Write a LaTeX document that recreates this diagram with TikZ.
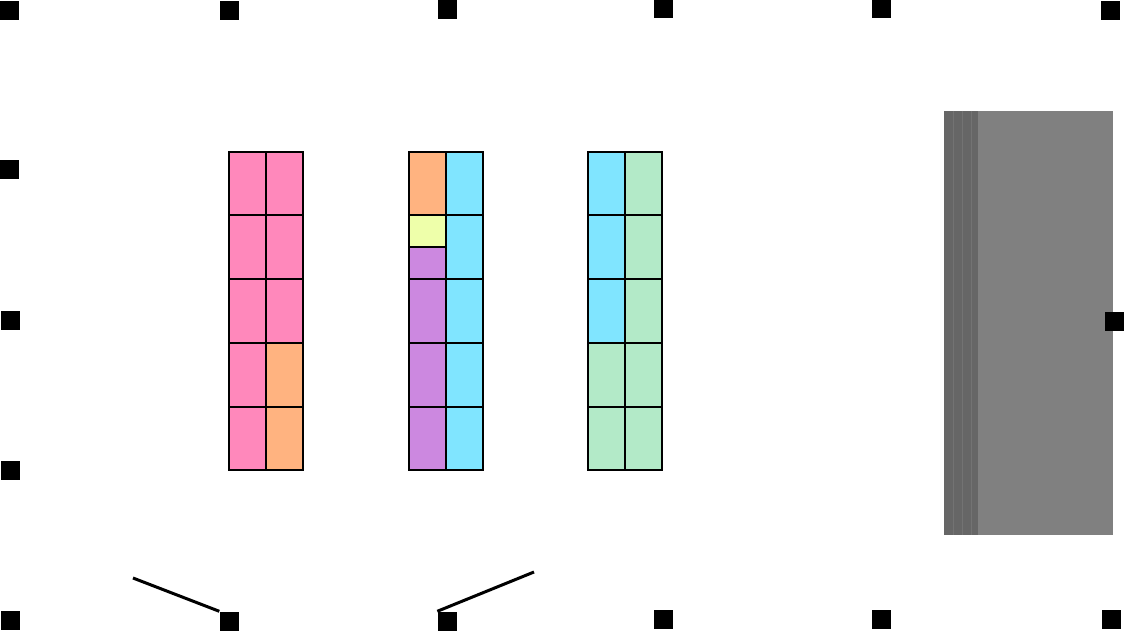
\documentclass[tikz,border=0pt]{standalone}
\usetikzlibrary{positioning}

\definecolor{rosa}{RGB}{255,136,187}
\definecolor{apricot}{RGB}{255,179,128}
\definecolor{himmel}{RGB}{128,229,255}
\definecolor{limone}{RGB}{238,255,170}
\definecolor{flieder}{RGB}{204,136,224}
\definecolor{minze}{RGB}{179,234,200}

\tikzset{handle/.style={fill=black, inner sep=0pt, minimum size=19pt},
         cell/.style={draw=black, line width=1.5pt},
         wire/.style={line width=3pt}}

\begin{document}
\begin{tikzpicture}[x=1pt, y=-1pt]
        \useasboundingbox (0,0) rectangle (1124,631);

        \fill [rosa] (229,152) rectangle (303,470);
        \fill [apricot] (266,343) rectangle (303,470);
        \draw [cell] (229,152) rectangle (303,470);
        \draw [cell] (266,152) -- (266,470);
        \foreach \y in {215,279,343,407}
            \draw [cell] (229,\y) -- (303,\y);

        \fill [himmel] (409,152) rectangle (483,470);
        \fill [apricot] (409,152) rectangle (446,215);
        \fill [limone] (409,215) rectangle (446,247);
        \fill [flieder] (409,247) rectangle (446,470);
        \draw [cell] (409,152) rectangle (483,470);
        \draw [cell] (446,152) -- (446,470);
        \draw [cell] (409,247) -- (446,247);
        \foreach \y in {215,279,343,407}
            \draw [cell] (409,\y) -- (483,\y);

        \fill [minze] (588,152) rectangle (662,470);
        \fill [himmel] (588,152) rectangle (625,343);
        \draw [cell] (588,152) rectangle (662,470);
        \draw [cell] (625,152) -- (625,470);
        \foreach \y in {215,279,343,407}
            \draw [cell] (588,\y) -- (662,\y);

        \fill [black!50] (944,111) rectangle (1113,535);
        \fill [black!60] (944,111) rectangle (978,535);
        \foreach \x in {953,962,971}
            \draw [black!55, line width=1pt] (\x,111) -- (\x,535);

        \foreach \name/\px/\py in {t1/9/11, t2/229/11, t3/447/10, t4/663/9, t5/881/9, t6/1110/11,
                                   l1/9/170, l2/10/320, l3/10/470, r1/1114/321,
                                   b0/10/620, b1/229/621, b2/447/621, b3/663/619, b4/881/619, b5/1111/619}
            \node [handle] (\name) at (\px,\py) {};

        \coordinate (w1) at (133,578);
        \coordinate (w2) at (534,572);
        \draw [wire] (w1) -- (b1.north west);
        \draw [wire] (w2) -- (b2.north west);
    \end{tikzpicture}
\end{document}
